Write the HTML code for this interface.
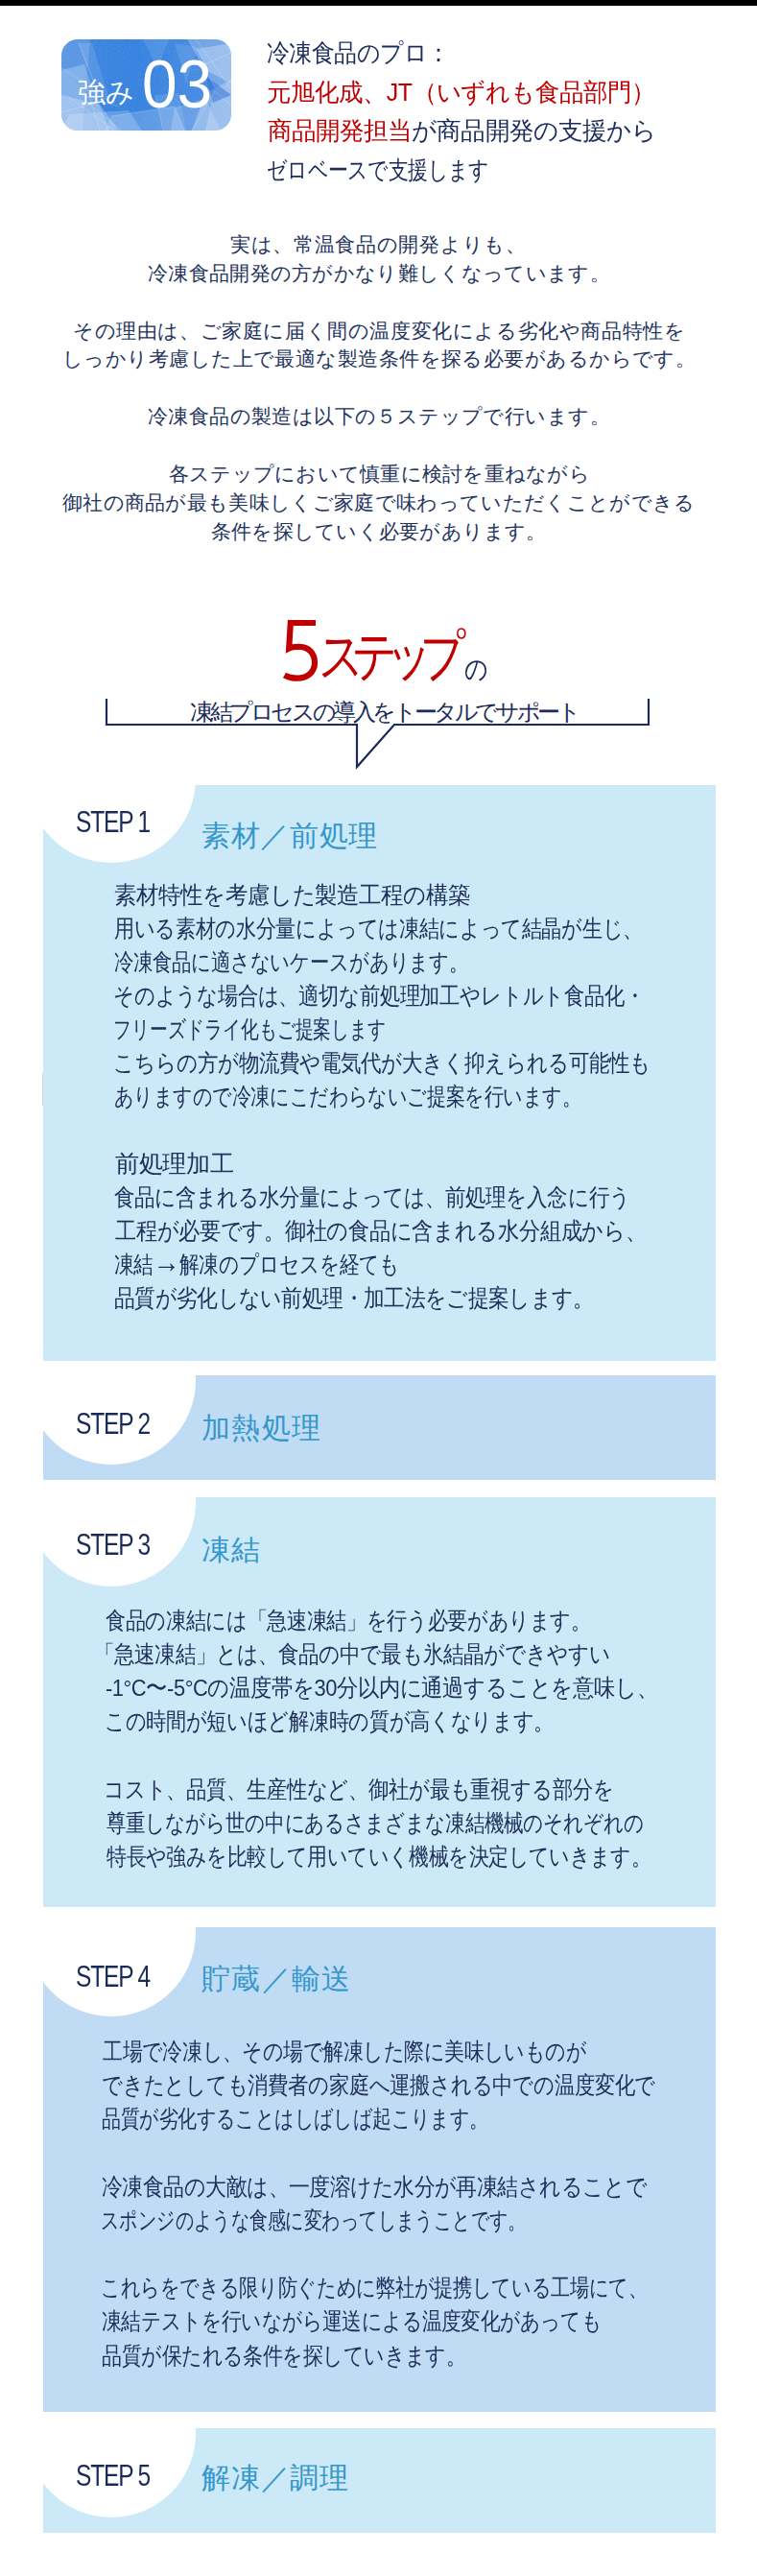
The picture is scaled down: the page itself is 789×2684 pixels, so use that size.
<!DOCTYPE html>
<html lang="ja">
<head>
<meta charset="utf-8">
<style>
html,body{margin:0;padding:0;background:#fff;}
body{width:789px;height:2684px;position:relative;overflow:hidden;font-family:"Liberation Sans",sans-serif;color:#1c2c5a;}
.abs{position:absolute;}
.ln{position:absolute;white-space:nowrap;transform-origin:0 0;}
.red{color:#c00000;}
.box{position:absolute;left:45px;width:701px;overflow:hidden;}
.c1{background:#cbe9f6;}
.c2{background:#c0dcf5;}
.circ{position:absolute;left:-17px;width:176px;height:176px;border-radius:50%;background:#fff;}
.step{position:absolute;left:0;font-size:30.7px;line-height:40px;letter-spacing:-1.5px;white-space:nowrap;transform:scaleX(0.8);transform-origin:0 0;color:#1b2b58;}
.ttl{position:absolute;font-size:30px;line-height:40px;white-space:nowrap;color:#3597cb;}
</style>
</head>
<body>
<div class="abs" style="left:0;top:0;width:789px;height:6px;background:#000;"></div>

<div class="abs" style="left:64px;top:41px;width:177px;height:95px;border-radius:17px;overflow:hidden;">
<svg width="177" height="95" viewBox="0 0 177 95" style="display:block">
<defs>
<linearGradient id="bg" x1="0" y1="0" x2="1" y2="0">
<stop offset="0" stop-color="#3f86e0"/>
<stop offset="0.45" stop-color="#3582df"/>
<stop offset="1" stop-color="#4f8fe2"/>
</linearGradient>
<filter id="tx" x="0" y="0" width="100%" height="100%">
<feTurbulence type="fractalNoise" baseFrequency="0.7" numOctaves="2" seed="3" result="n"/>
<feColorMatrix in="n" type="matrix" values="0 0 0 0 1  0 0 0 0 1  0 0 0 0 1  0 0 0 -1.6 1.0" result="w"/>
<feComposite in="w" in2="SourceGraphic" operator="in"/>
</filter>
</defs>
<rect width="177" height="95" fill="url(#bg)"/>
<rect width="177" height="95" fill="#fff" filter="url(#tx)" opacity="0.12"/>
<g fill="#fff">
<polygon points="0,0 30,0 22,95 0,95" opacity="0.14"/>
<polygon points="18,4 32,4 50,62 38,64" opacity="0.12"/>
<polygon points="0,32 24,26 50,95 0,95" opacity="0.24"/>
<polygon points="0,58 40,68 60,95 0,95" opacity="0.24"/>
<polygon points="8,78 70,74 84,95 0,95" opacity="0.2"/>
<polygon points="52,80 118,70 128,95 45,95" opacity="0.18"/>
<polygon points="98,58 122,56 130,95 106,95" opacity="0.12"/>
<polygon points="85,0 112,0 100,30" opacity="0.1"/>
<polygon points="118,4 142,8 130,46" opacity="0.1"/>
<polygon points="132,0 177,0 177,95 150,95 160,50" opacity="0.22"/>
<polygon points="140,10 177,4 177,46 154,34" opacity="0.28"/>
<polygon points="150,56 177,42 177,95 136,95" opacity="0.28"/>
<polygon points="118,72 150,62 166,95 114,95" opacity="0.18"/>
</g>
<polygon points="150,38 177,58 158,66" fill="#2d70d8" opacity="0.5"/>
<g fill="none" stroke="#fff" stroke-width="0.7" opacity="0.3">
<path d="M18,4 L40,60 M0,30 L25,45 L40,95 M5,58 L55,95 M0,76 L30,68 L62,95 M26,60 L60,70"/>
<path d="M140,0 L177,52 M150,26 L177,14 M136,95 L160,54 L177,70 M118,72 L150,62 M160,50 L132,0"/>
<path d="M52,80 L118,70 L128,95 M98,58 L106,95"/>
</g>
</svg>
<div class="abs" id="tsuyomi" style="left:16.5px;top:35px;font-size:28.5px;line-height:40px;color:#fff;white-space:nowrap;">強み</div>
<div class="abs" id="n03" style="left:84px;top:7px;font-size:70px;line-height:80px;color:#fff;white-space:nowrap;transform:scaleX(0.94);transform-origin:0 0;">03</div>
</div>

<!-- heading -->
<svg class="abs" id="h5" style="left:280px;top:630px" width="60" height="90" viewBox="280 630 60 90"><path d="M329,649 H302.8 L301.2,675.5 C305,673.5 309,673.8 312,673.8 C322,674 328,681 328,690.5 C328,700.5 320,706.7 310,706.7 C305,706.7 300,705.5 296.5,703.5" fill="none" stroke="#c00000" stroke-width="6.2" stroke-linejoin="miter"/></svg>
<div class="abs" id="hstep" style="left:332px;top:648px;font-size:57.5px;line-height:70px;letter-spacing:-14.8px;color:#c00000;white-space:nowrap;transform:scaleX(0.8);transform-origin:0 0;">ステップ</div>
<div class="abs" id="hno" style="left:484px;top:680px;font-size:29px;line-height:34px;color:#1c2c5a;white-space:nowrap;transform:scaleX(0.83);transform-origin:0 0;">の</div>
<div class="abs" id="hsub" style="left:198px;top:727px;font-size:23.5px;line-height:30px;color:#1c2c5a;white-space:nowrap;letter-spacing:-3.4px;">凍結プロセスの導入をトータルでサポート</div>
<svg class="abs" style="left:0;top:700px" width="789" height="110">
<polyline points="111,28 111,55 372,55 372,99 411,55 676,55 676,28" fill="none" stroke="#1c2c5a" stroke-width="2.2"/>
</svg>

<div class="box c1" style="top:818px;height:600px;">
<div class="circ" style="top:-95.5px;"></div>
<div class="step" id="st1" style="left:34px;top:18.5px;">STEP 1</div>
<div class="ttl" id="tt1" style="left:165px;top:33px;letter-spacing:0.7px;">素材／前処理</div>
</div>
<div class="abs" style="left:44px;top:1118px;width:1px;height:34px;background:#d8d8d8;"></div>

<div class="box c2" style="top:1433px;height:109px;">
<div class="circ" style="top:-83px;"></div>
<div class="step" id="st2" style="left:34px;top:31px;">STEP 2</div>
<div class="ttl" id="tt2" style="left:165px;top:35px;letter-spacing:1.3px;">加熱処理</div>
</div>

<div class="box c1" style="top:1560px;height:427px;">
<div class="circ" style="top:-83px;"></div>
<div class="step" id="st3" style="left:34px;top:30px;">STEP 3</div>
<div class="ttl" id="tt3" style="left:165px;top:35px;letter-spacing:1.4px;">凍結</div>
</div>

<div class="box c2" style="top:2008px;height:505px;">
<div class="circ" style="top:-83px;"></div>
<div class="step" id="st4" style="left:34px;top:32px;">STEP 4</div>
<div class="ttl" id="tt4" style="left:165px;top:34px;letter-spacing:1.25px;">貯蔵／輸送</div>
</div>

<div class="box c1" style="top:2530px;height:109px;">
<div class="circ" style="top:-83px;"></div>
<div class="step" id="st5" style="left:34px;top:30px;">STEP 5</div>
<div class="ttl" id="tt5" style="left:165px;top:32px;letter-spacing:0.75px;">解凍／調理</div>
</div>

<div class="ln" id="in0" style="left:278.00px;top:36.61px;font-size:25.5px;line-height:36px;letter-spacing:-0.500px;color:#1c2c5a;transform:scaleX(0.9209)">冷凍食品のプロ：</div>
<div class="ln" id="in1" style="left:278.00px;top:77.61px;font-size:25.5px;line-height:36px;letter-spacing:-0.500px;color:#1c2c5a;transform:scaleX(0.9788)"><span class="red">元旭化成、JT（いずれも食品部門）</span></div>
<div class="ln" id="in2" style="left:279.00px;top:117.91px;font-size:25.5px;line-height:36px;letter-spacing:-0.500px;color:#1c2c5a;transform:scaleX(0.9829)"><span class="red">商品開発担当</span>が商品開発の支援から</div>
<div class="ln" id="in3" style="left:278.00px;top:158.81px;font-size:25.5px;line-height:36px;letter-spacing:-0.500px;color:#1c2c5a;transform:scaleX(0.8021)">ゼロベースで支援します</div>
<div class="ln" id="pa0" style="left:240.00px;top:240.03px;font-size:20.5px;line-height:29px;letter-spacing:0.685px;color:#24345e">実は、常温食品の開発よりも、</div>
<div class="ln" id="pa1" style="left:154.00px;top:269.88px;font-size:20.5px;line-height:29px;letter-spacing:0.310px;color:#24345e">冷凍食品開発の方がかなり難しくなっています。</div>
<div class="ln" id="pa3" style="left:76.10px;top:329.57px;font-size:20.5px;line-height:29px;letter-spacing:0.600px;color:#24345e">その理由は、ご家庭に届く間の温度変化による劣化や商品特性を</div>
<div class="ln" id="pa4" style="left:65.00px;top:359.42px;font-size:20.5px;line-height:29px;letter-spacing:0.445px;color:#24345e">しっかり考慮した上で最適な製造条件を探る必要があるからです。</div>
<div class="ln" id="pa6" style="left:154.00px;top:419.12px;font-size:20.5px;line-height:29px;letter-spacing:0.405px;color:#24345e">冷凍食品の製造は以下の５ステップで行います。</div>
<div class="ln" id="pa8" style="left:176.00px;top:478.82px;font-size:20.5px;line-height:29px;letter-spacing:0.237px;color:#24345e">各ステップにおいて慎重に検討を重ねながら</div>
<div class="ln" id="pa9" style="left:64.90px;top:508.68px;font-size:20.5px;line-height:29px;letter-spacing:0.321px;color:#24345e">御社の商品が最も美味しくご家庭で味わっていただくことができる</div>
<div class="ln" id="pa10" style="left:220.00px;top:538.52px;font-size:20.5px;line-height:29px;letter-spacing:0.233px;color:#24345e">条件を探していく必要があります。</div>
<div class="ln" id="s1_0" style="left:119.00px;top:916.24px;font-size:24.5px;line-height:34px;letter-spacing:-0.500px;color:#1f2e5a;transform:scaleX(0.9369)">素材特性を考慮した製造工程の構築</div>
<div class="ln" id="s1_1" style="left:119.00px;top:951.24px;font-size:24.5px;line-height:34px;letter-spacing:-0.500px;color:#1f2e5a;transform:scaleX(0.8461)">用いる素材の水分量によっては凍結によって結晶が生じ、</div>
<div class="ln" id="s1_2" style="left:119.00px;top:986.24px;font-size:24.5px;line-height:34px;letter-spacing:-0.500px;color:#1f2e5a;transform:scaleX(0.8165)">冷凍食品に適さないケースがあります。</div>
<div class="ln" id="s1_3" style="left:118.00px;top:1021.24px;font-size:24.5px;line-height:34px;letter-spacing:-0.500px;color:#1f2e5a;transform:scaleX(0.8531)">そのような場合は、適切な前処理加工やレトルト食品化・</div>
<div class="ln" id="s1_4" style="left:118.00px;top:1056.24px;font-size:24.5px;line-height:34px;letter-spacing:-0.500px;color:#1f2e5a;transform:scaleX(0.7507)">フリーズドライ化もご提案します</div>
<div class="ln" id="s1_5" style="left:118.00px;top:1091.24px;font-size:24.5px;line-height:34px;letter-spacing:-0.500px;color:#1f2e5a;transform:scaleX(0.8600)">こちらの方が物流費や電気代が大きく抑えられる可能性も</div>
<div class="ln" id="s1_6" style="left:119.00px;top:1126.24px;font-size:24.5px;line-height:34px;letter-spacing:-0.500px;color:#1f2e5a;transform:scaleX(0.8027)">ありますので冷凍にこだわらないご提案を行います。</div>
<div class="ln" id="s1_8" style="left:120.00px;top:1196.24px;font-size:24.5px;line-height:34px;letter-spacing:-0.500px;color:#1f2e5a;transform:scaleX(1.0099)">前処理加工</div>
<div class="ln" id="s1_9" style="left:119.00px;top:1231.24px;font-size:24.5px;line-height:34px;letter-spacing:-0.500px;color:#1f2e5a;transform:scaleX(0.8608)">食品に含まれる水分量によっては、前処理を入念に行う</div>
<div class="ln" id="s1_10" style="left:120.00px;top:1266.24px;font-size:24.5px;line-height:34px;letter-spacing:-0.500px;color:#1f2e5a;transform:scaleX(0.8890)">工程が必要です。御社の食品に含まれる水分組成から、</div>
<div class="ln" id="s1_11" style="left:119.00px;top:1301.24px;font-size:24.5px;line-height:34px;letter-spacing:-0.500px;color:#1f2e5a;transform:scaleX(0.8254)">凍結<span style="font-size:34px;line-height:10px">→</span>解凍のプロセスを経ても</div>
<div class="ln" id="s1_12" style="left:119.00px;top:1336.24px;font-size:24.5px;line-height:34px;letter-spacing:-0.500px;color:#1f2e5a;transform:scaleX(0.8723)">品質が劣化しない前処理・加工法をご提案します。</div>
<div class="ln" id="s3_0" style="left:110.40px;top:1671.64px;font-size:24.5px;line-height:34px;letter-spacing:-0.500px;color:#1f2e5a;transform:scaleX(0.8457)">食品の凍結には「急速凍結」を行う必要があります。</div>
<div class="ln" id="s3_1" style="left:98.40px;top:1706.84px;font-size:24.5px;line-height:34px;letter-spacing:-0.500px;color:#1f2e5a;transform:scaleX(0.8630)">「急速凍結」とは、食品の中で最も氷結晶ができやすい</div>
<div class="ln" id="s3_2" style="left:110.40px;top:1742.04px;font-size:24.5px;line-height:34px;letter-spacing:-0.500px;color:#1f2e5a;transform:scaleX(0.8932)">-1°C<span style="font-size:24.5px">〜</span>-5°Cの温度帯を30分以内に通過することを意味し、</div>
<div class="ln" id="s3_3" style="left:109.40px;top:1777.24px;font-size:24.5px;line-height:34px;letter-spacing:-0.500px;color:#1f2e5a;transform:scaleX(0.8478)">この時間が短いほど解凍時の質が高くなります。</div>
<div class="ln" id="s3_5" style="left:108.40px;top:1847.64px;font-size:24.5px;line-height:34px;letter-spacing:-0.500px;color:#1f2e5a;transform:scaleX(0.8536)">コスト、品質、生産性など、御社が最も重視する部分を</div>
<div class="ln" id="s3_6" style="left:111.40px;top:1882.84px;font-size:24.5px;line-height:34px;letter-spacing:-0.500px;color:#1f2e5a;transform:scaleX(0.8227)">尊重しながら世の中にあるさまざまな凍結機械のそれぞれの</div>
<div class="ln" id="s3_7" style="left:111.40px;top:1918.04px;font-size:24.5px;line-height:34px;letter-spacing:-0.500px;color:#1f2e5a;transform:scaleX(0.8372)">特長や強みを比較して用いていく機械を決定していきます。</div>
<div class="ln" id="s4_0" style="left:107.00px;top:2120.84px;font-size:24.5px;line-height:34px;letter-spacing:-0.500px;color:#1f2e5a;transform:scaleX(0.8386)">工場で冷凍し、その場で解凍した際に美味しいものが</div>
<div class="ln" id="s4_1" style="left:106.00px;top:2156.04px;font-size:24.5px;line-height:34px;letter-spacing:-0.500px;color:#1f2e5a;transform:scaleX(0.8533)">できたとしても消費者の家庭へ運搬される中での温度変化で</div>
<div class="ln" id="s4_2" style="left:106.00px;top:2191.24px;font-size:24.5px;line-height:34px;letter-spacing:-0.500px;color:#1f2e5a;transform:scaleX(0.7992)">品質が劣化することはしばしば起こります。</div>
<div class="ln" id="s4_4" style="left:106.00px;top:2261.64px;font-size:24.5px;line-height:34px;letter-spacing:-0.500px;color:#1f2e5a;transform:scaleX(0.8765)">冷凍食品の大敵は、一度溶けた水分が再凍結されることで</div>
<div class="ln" id="s4_5" style="left:105.00px;top:2296.84px;font-size:24.5px;line-height:34px;letter-spacing:-0.500px;color:#1f2e5a;transform:scaleX(0.7604)">スポンジのような食感に変わってしまうことです。</div>
<div class="ln" id="s4_7" style="left:105.00px;top:2367.24px;font-size:24.5px;line-height:34px;letter-spacing:-0.500px;color:#1f2e5a;transform:scaleX(0.8082)">これらをできる限り防ぐために弊社が提携している工場にて、</div>
<div class="ln" id="s4_8" style="left:106.00px;top:2402.44px;font-size:24.5px;line-height:34px;letter-spacing:-0.500px;color:#1f2e5a;transform:scaleX(0.8285)">凍結テストを行いながら運送による温度変化があっても</div>
<div class="ln" id="s4_9" style="left:106.00px;top:2437.64px;font-size:24.5px;line-height:34px;letter-spacing:-0.500px;color:#1f2e5a;transform:scaleX(0.8395)">品質が保たれる条件を探していきます。</div>
</body>
</html>
